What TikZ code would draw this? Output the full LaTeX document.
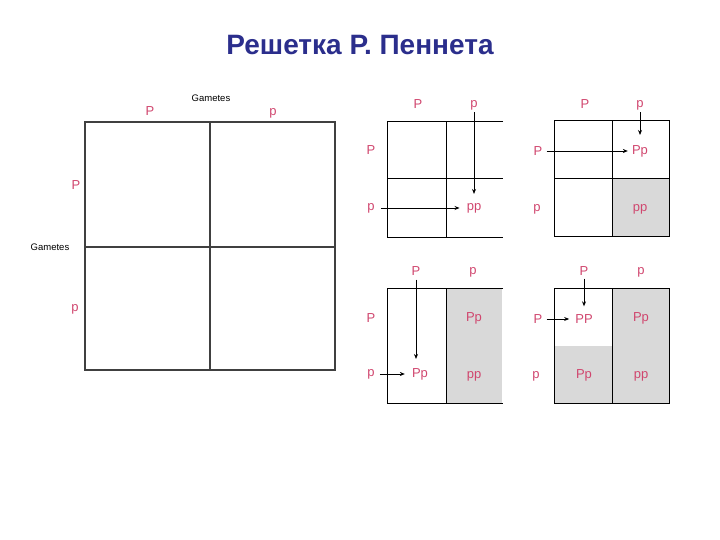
\documentclass[tikz,border=0pt]{standalone}
\usepackage{fontspec}
\setmainfont{Liberation Sans}
\usetikzlibrary{arrows.meta}
\definecolor{titleblue}{HTML}{2B2E8C}
\definecolor{allele}{HTML}{D0466E}
\definecolor{cellgray}{HTML}{D9D9D9}
\begin{document}
\begin{tikzpicture}[x=1pt,y=-1pt,
  al/.style={inner sep=0pt,text=allele,font=\fontsize{13}{13}\selectfont},
  gam/.style={inner sep=0pt,font=\fontsize{9.5}{10}\selectfont},
  bigline/.style={draw=black!75,line width=1.3pt},
  grid/.style={draw=black,line width=1pt},
  arr/.style={-{Stealth[length=5pt,width=4pt]},line width=0.8pt}]
\useasboundingbox (0,0) rectangle (720,540);
\node[font=\bfseries\fontsize{28}{28}\selectfont,text=titleblue] (title) at (360,45) {Решетка Р. Пеннета};
% big grid
\draw[bigline] (85,122) rectangle (335,370);
\draw[bigline] (210,122) -- (210,370);
\draw[bigline] (85,247) -- (335,247);
\node[gam] (g1) at (211,98) {Gametes};
\node[gam] (g2) at (50,247) {Gametes};
\node[al] (bt1) at (150,111) {P};
\node[al] (bt2) at (273,113) {p};
\node[al] (bl1) at (76,185) {P};
\node[al] (bl2) at (75,309) {p};
% grid A (top-left)
\draw[grid] (503,122) -- (387,122) -- (387,237) -- (503,237);
\draw[grid] (387,179) -- (503,179);
\draw[grid] (446,122) -- (446,237);
\node[al] (at1) at (418,104) {P};
\node[al] (at2) at (474,105) {p};
\node[al] (al1) at (371,150) {P};
\node[al] (al2) at (371,208) {p};
\node[al] (ac) at (474,208) {pp};
\draw[arr,shorten <=2pt,shorten >=9pt] (at2.south) -- (at2.south |- ac.north);
\draw[arr,shorten <=6pt,shorten >=7pt] (al2.east) -- (ac.west);
% grid B (top-right)
\fill[cellgray] (612,179) rectangle (669,236);
\draw[grid] (554,121) rectangle (669,236);
\draw[grid] (554,179) -- (669,179);
\draw[grid] (612,121) -- (612,236);
\node[al] (bt1s) at (585,104) {P};
\node[al] (bt2s) at (640,105) {p};
\node[al] (bl1s) at (538,151) {P};
\node[al] (bl2s) at (537,209) {p};
\node[al] (bc1) at (640,151) {Pp};
\node[al] (bc2) at (640,209) {pp};
\draw[arr,shorten <=2pt,shorten >=10pt] (bt2s.south) -- (bt2s.south |- bc1.north);
\draw[arr,shorten <=4pt,shorten >=4pt] (bl1s.east) -- (bc1.west);
% grid C (bottom-left)
\fill[cellgray] (446,288) rectangle (502,403);
\draw[grid] (503,288) -- (387,288) -- (387,403) -- (503,403);
\draw[grid] (446,288) -- (446,403);
\node[al] (ct1) at (416,271) {P};
\node[al] (ct2) at (473,272) {p};
\node[al] (cl1) at (371,318) {P};
\node[al] (cl2) at (371,374) {p};
\node[al] (cc1) at (474,318) {Pp};
\node[al] (cc2) at (474,376) {pp};
\node[al] (cc3) at (420,374) {Pp};
\draw[arr,shorten <=4pt,shorten >=9pt] (ct1.south) -- (ct1.south |- cc3.north);
\draw[arr,shorten <=5pt,shorten >=7pt] (cl2.east) -- (cc3.west);
% grid D (bottom-right)
\fill[cellgray] (612,288) rectangle (669,403);
\fill[cellgray] (554,346) rectangle (612,403);
\draw[grid] (554,288) rectangle (669,403);
\draw[grid] (612,288) -- (612,403);
\node[al] (dt1) at (584,271) {P};
\node[al] (dt2) at (641,272) {p};
\node[al] (dl1) at (538,319) {P};
\node[al] (dl2) at (536,376) {p};
\node[al] (dc1) at (584,319) {PP};
\node[al] (dc2) at (584,375) {Pp};
\node[al] (dc3) at (641,318) {Pp};
\node[al] (dc4) at (641,376) {pp};
\draw[arr,shorten <=3pt,shorten >=8pt] (dt1.south) -- (dt1.south |- dc1.north);
\draw[arr,shorten <=4pt,shorten >=6pt] (dl1.east) -- (dc1.west);
\end{tikzpicture}
\end{document}
